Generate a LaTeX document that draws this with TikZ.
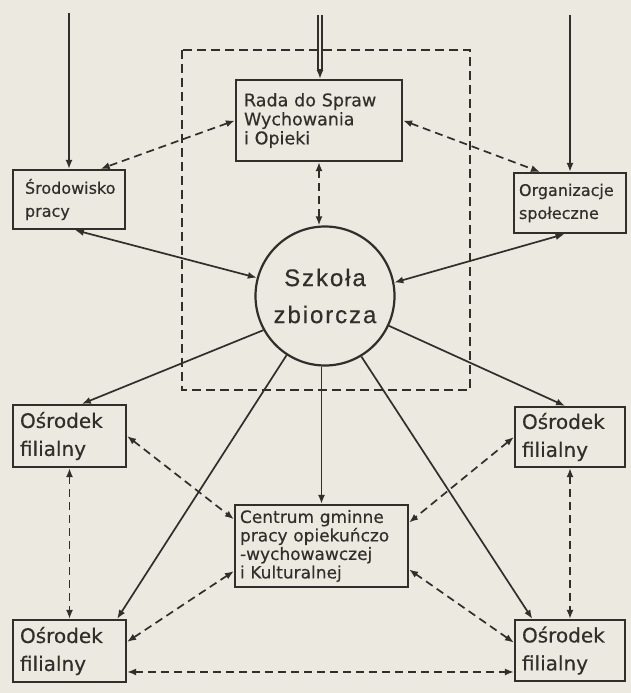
\documentclass[tikz,border=0pt]{standalone}
\usepackage{fontspec}
\setmainfont{DejaVu Sans}[FakeBold=0.4]
\newfontfamily\szkfont{Liberation Sans}[LetterSpace=8,FakeBold=0.4]
\usetikzlibrary{arrows.meta}
\definecolor{bg}{RGB}{236,233,225}
\definecolor{ink}{RGB}{50,46,42}
\begin{document}
\begin{tikzpicture}[x=1pt,y=-1pt,
  box/.style={draw=ink, line width=2.2pt, rectangle, inner sep=0pt, align=left, text=ink},
  tip/.tip={Latex[length=9pt,width=7pt]},
  arr/.style={draw=ink, line width=1.7pt, -tip},
  barr/.style={draw=ink, line width=1.7pt, tip-tip},
  darr/.style={draw=ink, line width=1.7pt, tip-tip, dash pattern=on 8pt off 5pt},
  frame/.style={draw=ink, line width=2pt, dash pattern=on 9pt off 5pt}]
\fill[bg] (0,0) rectangle (631,693);
\useasboundingbox (0,0) rectangle (631,693);

% dashed frame
\draw[frame] (182,50) rectangle (470,390);

% nodes
\node[box, minimum width=166pt, minimum height=81pt, text width=150pt,
      font=\fontsize{17.5}{19}\selectfont] (rada) at (319,120.5)
      {Rada do Spraw\\Wychowania\\i Opieki};
\node[box, minimum width=112pt, minimum height=59pt, text width=88pt,
      font=\fontsize{16}{23}\selectfont] (srod) at (69,199.5)
      {Środowisko\\pracy};
\node[box, minimum width=112pt, minimum height=60pt, text width=102pt,
      font=\fontsize{16}{23}\selectfont] (org) at (570,203)
      {Organizacje\\społeczne};
\node[circle, draw=ink, line width=2.2pt, minimum size=139pt, inner sep=0pt,
      align=center, text=ink, font=\fontsize{24}{37}\selectfont\szkfont] (szk) at (325,296)
      {Szkoła\\zbiorcza};
\node[box, minimum width=113pt, minimum height=62pt, text width=99pt,
      font=\fontsize{20}{28}\selectfont] (olt) at (69.5,436)
      {Ośrodek\\filialny};
\node[box, minimum width=113pt, minimum height=62pt, text width=99pt,
      font=\fontsize{20}{28}\selectfont] (olb) at (69.5,651)
      {Ośrodek\\filialny};
\node[box, minimum width=110pt, minimum height=60pt, text width=96pt,
      font=\fontsize{20}{28}\selectfont] (ort) at (570,437)
      {Ośrodek\\filialny};
\node[box, minimum width=110pt, minimum height=61pt, text width=96pt,
      font=\fontsize{20}{28}\selectfont] (orb) at (570,650.5)
      {Ośrodek\\filialny};
\node[box, minimum width=173pt, minimum height=82pt, text width=163pt,
      font=\fontsize{17}{18.5}\selectfont] (cent) at (321.5,546)
      {Centrum gminne\\pracy opiekuńczo\\-wychowawczej\\i Kulturalnej};

% incoming lines from above
\coordinate (t1) at (69,13);
\coordinate (t2) at (320,15);
\coordinate (t3) at (570,15);
\draw[arr] (t1) -- (srod.north);
\draw[arr] (t3) -- (org.north);
\coordinate (r2) at (t2 |- rada.north);
\draw[draw=ink, line width=1.4pt, double distance=2.4pt, double=bg] (t2) -- ([yshift=9pt]r2);
\draw[arr] ([yshift=10pt]r2) -- (r2);

% dashed links of Rada
\draw[darr] (rada.west) -- (srod.44);
\draw[darr] (rada.east) -- (org.134);
\draw[darr] (rada.south) -- (szk.north -| rada.south);

% solid links of Szkoła
\draw[barr] (srod.-79) -- (szk.165);
\draw[barr] (org.-100) -- (szk.11);
\draw[arr] (szk.209) -- (olt.69);
\draw[arr] (szk.-25) -- (ort.99);
\draw[arr] (szk.south -| cent.north) -- (cent.north);
\draw[arr] (szk.237) -- (olb.34);
\draw[arr] (szk.-59) -- (orb.140);

% dashed links around Centrum
\draw[darr] (olt.east) -- (cent.163);
\draw[darr] (ort.west) -- (cent.15);
\draw[darr] (olb.9) -- (cent.196);
\draw[darr] (orb.172) -- (cent.-15);
\draw[darr] (olt.south) -- (olb.north);
\draw[darr] (ort.south) -- (orb.north);
\draw[darr] (olb.-20) -- (olb.-20 -| orb.west);
\end{tikzpicture}
\end{document}
